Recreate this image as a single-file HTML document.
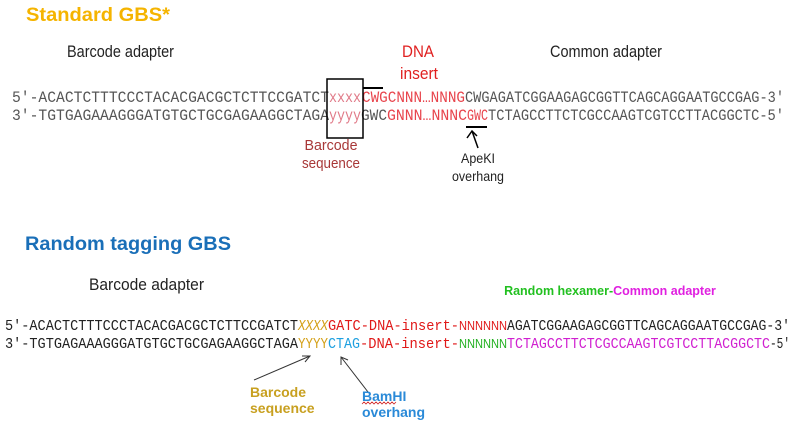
<!DOCTYPE html>
<html><head><meta charset="utf-8"><style>
html,body{margin:0;padding:0;background:#fff;width:804px;height:425px;overflow:hidden}
svg{display:block}
.s{font-family:"Liberation Sans",sans-serif}
.m{font-family:"Liberation Mono",monospace;font-size:16px}
.r{font-family:"Liberation Mono",monospace;font-size:14.5px}
</style></head><body>
<svg width="804" height="425" viewBox="0 0 804 425">
<text class="s" x="26" y="21" font-size="19" font-weight="bold" fill="#f5b400" textLength="144" lengthAdjust="spacingAndGlyphs">Standard GBS*</text>
<text class="s" x="67" y="57" font-size="17" fill="#222" textLength="107" lengthAdjust="spacingAndGlyphs">Barcode adapter</text>
<text class="s" x="418" y="57" font-size="17" fill="#e02020" text-anchor="middle" textLength="32" lengthAdjust="spacingAndGlyphs">DNA</text>
<text class="s" x="419" y="79" font-size="17" fill="#e02020" text-anchor="middle" textLength="38" lengthAdjust="spacingAndGlyphs">insert</text>
<text class="s" x="550" y="57" font-size="17" fill="#222" textLength="112" lengthAdjust="spacingAndGlyphs">Common adapter</text>

<g>
<text class="m" x="12" y="102" fill="#555" textLength="317" lengthAdjust="spacingAndGlyphs">5′-ACACTCTTTCCCTACACGACGCTCTTCCGATCT</text>
<text class="m" x="329" y="102" fill="#e07a88" textLength="32" lengthAdjust="spacingAndGlyphs">xxxx</text>
<text class="m" x="362" y="102" fill="#e8444c" textLength="103" lengthAdjust="spacingAndGlyphs">CWGCNNN…NNNG</text>
<text class="m" x="465" y="102" fill="#555" textLength="319" lengthAdjust="spacingAndGlyphs">CWGAGATCGGAAGAGCGGTTCAGCAGGAATGCCGAG-3′</text>
</g>
<g>
<text class="m" x="12" y="120" fill="#555" textLength="317" lengthAdjust="spacingAndGlyphs">3′-TGTGAGAAAGGGATGTGCTGCGAGAAGGCTAGA</text>
<text class="m" x="329" y="120" fill="#e07a88" textLength="32" lengthAdjust="spacingAndGlyphs">yyyy</text>
<text class="m" x="361" y="120" fill="#555" textLength="26" lengthAdjust="spacingAndGlyphs">GWC</text>
<text class="m" x="387" y="120" fill="#e8444c" textLength="80" lengthAdjust="spacingAndGlyphs">GNNN…NNNC</text>
<text class="m" x="467" y="120" fill="#e8444c" textLength="21" lengthAdjust="spacingAndGlyphs">GWC</text>
<text class="m" x="488" y="120" fill="#555" textLength="296" lengthAdjust="spacingAndGlyphs">TCTAGCCTTCTCGCCAAGTCGTCCTTACGGCTC-5′</text>
</g>
<rect x="327" y="79" width="36" height="59" fill="none" stroke="#000" stroke-width="1.5"/>
<line x1="363" y1="88" x2="383" y2="88" stroke="#000" stroke-width="2"/>
<line x1="466" y1="127" x2="487" y2="127" stroke="#000" stroke-width="2"/>
<g stroke="#000" stroke-width="1.5" fill="none">
<line x1="478" y1="148" x2="472" y2="131"/><polyline points="467,138 472,131 477,136"/>
</g>
<text class="s" x="331" y="150" font-size="15" fill="#a83838" text-anchor="middle" textLength="53" lengthAdjust="spacingAndGlyphs">Barcode</text>
<text class="s" x="331" y="168" font-size="15" fill="#a83838" text-anchor="middle" textLength="58" lengthAdjust="spacingAndGlyphs">sequence</text>
<text class="s" x="478" y="163" font-size="14" fill="#222" text-anchor="middle" textLength="34" lengthAdjust="spacingAndGlyphs">ApeKI</text>
<text class="s" x="478" y="181" font-size="14" fill="#222" text-anchor="middle" textLength="52" lengthAdjust="spacingAndGlyphs">overhang</text>

<text class="s" x="25" y="250" font-size="19" font-weight="bold" fill="#1a6fb8" textLength="206" lengthAdjust="spacingAndGlyphs">Random tagging GBS</text>
<text class="s" x="89" y="290" font-size="17" fill="#222" textLength="115" lengthAdjust="spacingAndGlyphs">Barcode adapter</text>
<text class="s" x="610" y="295" font-size="12.5" font-weight="bold" text-anchor="middle"><tspan fill="#22c020">Random hexamer-</tspan><tspan fill="#e020e0">Common adapter</tspan></text>

<g>
<text class="r" x="5" y="330" fill="#222" textLength="293" lengthAdjust="spacingAndGlyphs">5′-ACACTCTTTCCCTACACGACGCTCTTCCGATCT</text>
<text class="r" x="298" y="330" fill="#d4a017" font-style="italic" textLength="30" lengthAdjust="spacingAndGlyphs">XXXX</text>
<text class="r" x="328" y="330" fill="#e01818" textLength="131" lengthAdjust="spacingAndGlyphs">GATC-DNA-insert-</text>
<text class="s" x="459" y="330" font-size="13" fill="#e01818" textLength="48" lengthAdjust="spacingAndGlyphs">NNNNNN</text>
<text class="r" x="507" y="330" fill="#222" textLength="283" lengthAdjust="spacingAndGlyphs">AGATCGGAAGAGCGGTTCAGCAGGAATGCCGAG-3′</text>
</g>
<g>
<text class="r" x="5" y="348" fill="#222" textLength="293" lengthAdjust="spacingAndGlyphs">3′-TGTGAGAAAGGGATGTGCTGCGAGAAGGCTAGA</text>
<text class="r" x="298" y="348" fill="#d4a017" textLength="30" lengthAdjust="spacingAndGlyphs">YYYY</text>
<text class="r" x="328" y="348" fill="#1ea0e0" textLength="32" lengthAdjust="spacingAndGlyphs">CTAG</text>
<text class="r" x="360" y="348" fill="#e01818" textLength="99" lengthAdjust="spacingAndGlyphs">-DNA-insert-</text>
<text class="s" x="459" y="348" font-size="13" fill="#22b020" textLength="48" lengthAdjust="spacingAndGlyphs">NNNNNN</text>
<text class="r" x="507" y="348" fill="#d020d0" textLength="263" lengthAdjust="spacingAndGlyphs">TCTAGCCTTCTCGCCAAGTCGTCCTTACGGCTC</text>
<text class="r" x="770" y="348" fill="#222" textLength="20" lengthAdjust="spacingAndGlyphs">-5′</text>
</g>
<g stroke="#333" stroke-width="1" fill="none">
<line x1="254" y1="380" x2="310" y2="356"/><polyline points="302,356 310,356 305,362"/>
</g>
<g stroke="#333" stroke-width="1" fill="none">
<line x1="368" y1="392" x2="341" y2="357"/><polyline points="341,365 341,357 348,360"/>
</g>
<text class="s" x="250" y="397" font-size="14" font-weight="bold" fill="#c8a020">Barcode</text>
<text class="s" x="250" y="413" font-size="14" font-weight="bold" fill="#c8a020">sequence</text>
<text class="s" x="362" y="401" font-size="14" font-weight="bold" fill="#2a8ad8">BamHI</text>
<text class="s" x="362" y="417" font-size="14" font-weight="bold" fill="#2a8ad8">overhang</text>
<polyline points="362,404 364,402 366,404 368,402 370,404 372,402 374,404 376,402 378,404 380,402 382,404 384,402 386,404 388,402 390,404 392,402 394,404 396,402" fill="none" stroke="#d02020" stroke-width="0.8"/>
</svg>
</body></html>
